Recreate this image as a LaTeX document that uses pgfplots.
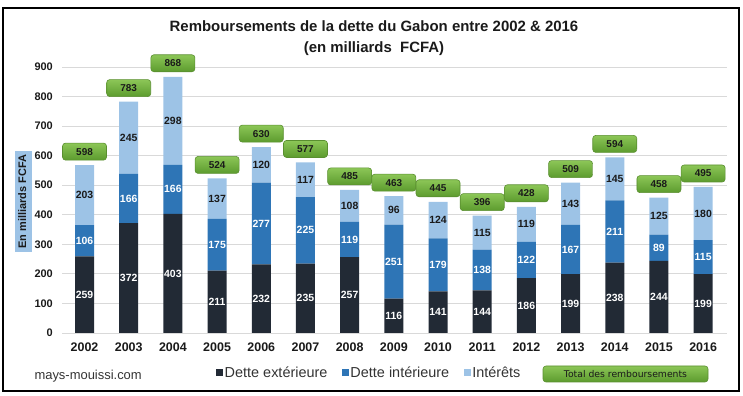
\documentclass[border=0pt]{standalone}
\usepackage{fontspec}
\setmainfont{Liberation Sans}
\newfontfamily\dejavu{DejaVu Sans}
\usepackage{pgfplots}
\usepackage{pgfplotstable}
\pgfplotsset{compat=1.18}
\definecolor{cExt}{HTML}{222A35}
\definecolor{cInt}{HTML}{2E75B6}
\definecolor{cItr}{HTML}{9DC3E6}
\definecolor{gTop}{HTML}{8CC657}
\definecolor{gBot}{HTML}{5C9B2E}
\definecolor{gEdge}{HTML}{5A8F30}
\definecolor{txt}{HTML}{1A1A1A}
\definecolor{legtxt}{HTML}{333333}

\pgfplotstableread{
x year ext int itr tot
0 2002 259 106 203 598
1 2003 372 166 245 783
2 2004 403 166 298 868
3 2005 211 175 137 524
4 2006 232 277 120 630
5 2007 235 225 117 577
6 2008 257 119 108 485
7 2009 116 251 96 463
8 2010 141 179 124 445
9 2011 144 138 115 396
10 2012 186 122 119 428
11 2013 199 167 143 509
12 2014 238 211 145 594
13 2015 244 89 125 458
14 2016 199 115 180 495
}\data

\pgfplotsset{base/.style={scale only axis, width=665bp, height=266bp,
  at={(62bp,63bp)}, anchor=south west,
  xmin=-0.51, xmax=14.54, ymin=0, ymax=900}}

\begin{document}
\begin{tikzpicture}
\useasboundingbox (0bp,0bp) rectangle (743bp,396bp);
\draw[line width=1.2bp] (3bp,5bp) rectangle (739bp,388bp);

\node[anchor=base, font=\fontsize{15}{18}\selectfont\bfseries, text=txt] at (374bp,364bp) {Remboursements de la dette du Gabon entre 2002 \& 2016};
\node[anchor=base, font=\fontsize{15}{18}\selectfont\bfseries, text=txt] at (374bp,343bp) {(en milliards\ \ FCFA)};

\begin{axis}[base, ybar stacked, bar width=19bp,
  axis line style={draw=none}, major tick length=0pt,
  ytick={0,100,...,900}, ymajorgrids,
  major grid style={gray!30, line width=0.8bp},
  extra y ticks={0}, extra y tick labels={},
  extra y tick style={grid style={gray!55, line width=0.9bp}},
  xtick={0,...,14},
  xticklabels={2002,2003,2004,2005,2006,2007,2008,2009,2010,2011,2012,2013,2014,2015,2016},
  /pgf/number format/assume math mode=true,
  yticklabel style={font=\fontsize{11}{13}\selectfont\bfseries, text=txt, anchor=east, inner sep=0pt, xshift=-9bp},
  xticklabel style={font=\fontsize{12.5}{14}\selectfont\bfseries, text=txt, anchor=north, inner sep=0pt, yshift=-10bp},
  ylabel={En milliards FCFA},
  ylabel style={at={(axis description cs:-0.0579,0.494)}, anchor=center, fill=cItr,
    font=\fontsize{11}{13}\selectfont\bfseries, text=txt,
    inner xsep=3.5bp, inner ysep=3bp, text height=8bp, text depth=2.5bp},
  legend style={at={(axis description cs:0.2316,-0.150)}, anchor=west, draw=none, fill=none,
    inner sep=0pt, font=\fontsize{14.5}{16}\selectfont, text=legtxt,
    /tikz/every even column/.append style={column sep=13bp}, nodes={inner sep=1.5bp}},
  legend columns=-1,
]
\addplot[fill=cExt, draw=none, legend image code/.code={\fill[cExt] (0bp,-3.5bp) rectangle (7bp,3.5bp);}] table[x=x,y=ext]{\data};
\addlegendentry{Dette extérieure}
\addplot[fill=cInt, draw=none, legend image code/.code={\fill[cInt] (0bp,-3.5bp) rectangle (7bp,3.5bp);}] table[x=x,y=int]{\data};
\addlegendentry{Dette intérieure}
\addplot[fill=cItr, draw=none, legend image code/.code={\fill[cItr] (0bp,-3.5bp) rectangle (7bp,3.5bp);}] table[x=x,y=itr]{\data};
\addlegendentry{Intérêts}
\end{axis}

\begin{axis}[base, hide axis, clip=false]
\addplot[draw=none, mark=none, nodes near coords, point meta=explicit symbolic,
  every node near coord/.append style={anchor=center, inner sep=0pt, font=\fontsize{10.5}{12}\selectfont\bfseries, text=white}]
  table[x=x, y expr=\thisrow{ext}/2, meta=ext]{\data};
\addplot[draw=none, mark=none, nodes near coords, point meta=explicit symbolic,
  every node near coord/.append style={anchor=center, inner sep=0pt, font=\fontsize{10.5}{12}\selectfont\bfseries, text=white}]
  table[x=x, y expr=\thisrow{ext}+\thisrow{int}/2, meta=int]{\data};
\addplot[draw=none, mark=none, nodes near coords, point meta=explicit symbolic,
  every node near coord/.append style={anchor=center, inner sep=0pt, font=\fontsize{10.5}{12}\selectfont\bfseries, text=txt}]
  table[x=x, y expr=\thisrow{ext}+\thisrow{int}+\thisrow{itr}/2, meta=itr]{\data};
\addplot[draw=none, mark=none, nodes near coords, point meta=explicit symbolic,
  every node near coord/.append style={anchor=center, yshift=13.5bp, inner sep=0pt,
    rounded corners=3bp, top color=gTop, bottom color=gBot, draw=gEdge, line width=0.6bp,
    minimum width=44bp, minimum height=17bp, font=\fontsize{10}{12}\selectfont\bfseries, text=txt}]
  table[x=x, y expr=\thisrow{ext}+\thisrow{int}+\thisrow{itr}, meta=tot]{\data};
\end{axis}

\node[anchor=west, font=\fontsize{13}{15}\selectfont, text=legtxt] at (31bp,20bp) {mays-mouissi.com};
\node[rounded corners=3bp, top color=gTop, bottom color=gBot, draw=gEdge, line width=0.6bp,
  minimum width=165bp, minimum height=16bp, inner sep=0pt,
  font=\dejavu\fontsize{9.3}{11}\selectfont, text=txt] at (625.5bp,22bp) {Total des remboursements};
\end{tikzpicture}
\end{document}
